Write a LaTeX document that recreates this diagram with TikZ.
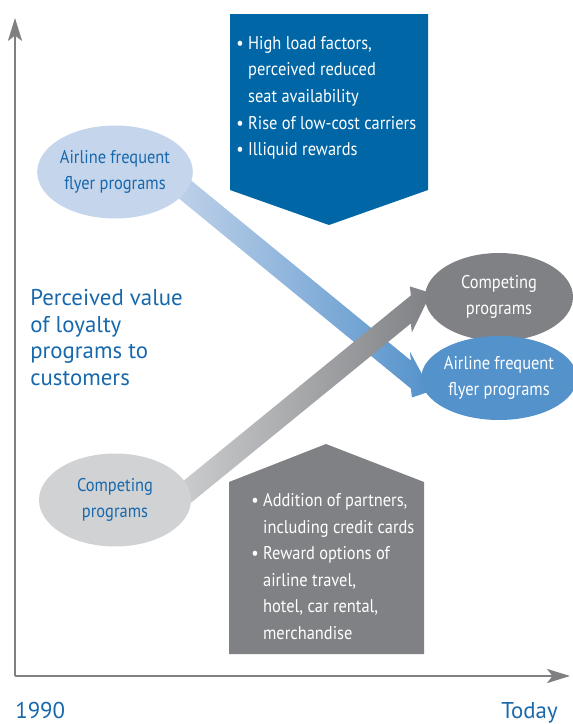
\documentclass[tikz,border=0pt]{standalone}
\usepackage{fontspec}
\setmainfont{PT Sans}
\newfontfamily\condfont[FakeStretch=0.89]{PT Sans}
\usetikzlibrary{arrows.meta,calc,shapes.geometric}

\definecolor{ffpdark}{RGB}{0,102,166}
\definecolor{ffpmid}{RGB}{84,146,203}
\definecolor{ffplight}{RGB}{197,213,235}
\definecolor{ffptext}{RGB}{23,104,172}
\definecolor{compdark}{RGB}{128,129,132}
\definecolor{complight}{RGB}{209,210,212}
\definecolor{axisgray}{RGB}{128,128,130}

% broad arrow: tail, tip, fill options
\newcommand{\fatarrow}[3]{%
	\coordinate (j) at ($(#2)!0.52cm!(#1)$);
	\path[#3] ($(#1)+(0,-14)$) -- ($(j)+(0,-14)$) -- ($(j)+(-1,-23)$) -- (#2)
		-- ($(j)+(1,23)$) -- ($(j)+(0,14)$) -- ($(#1)+(0,14)$) -- cycle;}

\tikzset{
	prog/.style={ellipse, inner sep=0pt, minimum width=3.04cm, minimum height=1.86cm,
		align=center, font=\condfont\fontsize{10.5}{15}\selectfont},
	boxtext/.style={align=left, inner sep=0pt, text=white,
		font=\condfont\fontsize{10.5}{15.1}\selectfont},
	axislabel/.style={text=ffptext, inner sep=0pt, font=\fontsize{13}{15.1}\selectfont},
	axisline/.style={draw=axisgray, line width=1.3pt,
		-{Stealth[length=13pt, width=8pt, inset=3pt]}}
}

\begin{document}
\begin{tikzpicture}[x=0.02cm, y=-0.02cm]
	\useasboundingbox (0,0) rectangle (573,724);

	% axes
	\coordinate (o) at (15,676);
	\coordinate (top) at (15,18);
	\coordinate (right) at (570,676);
	\draw[axisline] (o) to (top);
	\draw[axisline] (o) to (right);

	% factor boxes
	\fill[ffpdark] (230,14) -- (428,14) -- (428,190) -- (329,225) -- (230,190) -- cycle;
	\fill[compdark] (229,482) -- (326,444) -- (424,482) -- (424,654) -- (229,654) -- cycle;

	% trend arrows
	\coordinate (fft) at (160,169);
	\coordinate (ffh) at (431,391);
	\coordinate (cpt) at (160,514);
	\coordinate (cph) at (431,293);
	\fatarrow{fft}{ffh}{left color=ffplight, right color=ffpmid}
	\fatarrow{cpt}{cph}{left color=complight, right color=compdark}

	% programs
	\node[prog, fill=ffplight, text=ffptext] (ff0) at (115,172) {Airline frequent\\flyer programs};
	\node[prog, fill=complight, text=ffptext] (cp0) at (115,500) {Competing\\programs};
	\node[prog, fill=compdark, text=white, minimum width=2.96cm, minimum height=1.76cm] (cp1) at (499,297) {Competing\\programs};
	\node[prog, fill=ffpmid, text=white, minimum width=2.96cm, minimum height=1.68cm] (ff1) at (499,378) {Airline frequent\\flyer programs};

	% box texts
	\node[boxtext, anchor=north west] (why) at (236,36) {%
		\textbullet\ High load factors,\\
		\hphantom{\textbullet\ }perceived reduced\\
		\hphantom{\textbullet\ }seat availability\\
		\textbullet\ Rise of low-cost carriers\\
		\textbullet\ Illiquid rewards};
	\node[boxtext, anchor=north west] (how) at (251,493) {%
		\textbullet\ Addition of partners,\\
		\hphantom{\textbullet\ }including credit cards\\
		\textbullet\ Reward options of\\
		\hphantom{\textbullet\ }airline travel,\\
		\hphantom{\textbullet\ }hotel, car rental,\\
		\hphantom{\textbullet\ }merchandise};

	% labels
	\node[axislabel, align=left, anchor=north west] (val) at (30,289) {Perceived value\\of loyalty\\programs to\\customers};
	\node[axislabel, anchor=base west] (t0) at (15,718) {1990};
	\node[axislabel, anchor=base east] (t1) at (558,718) {Today};
\end{tikzpicture}
\end{document}
